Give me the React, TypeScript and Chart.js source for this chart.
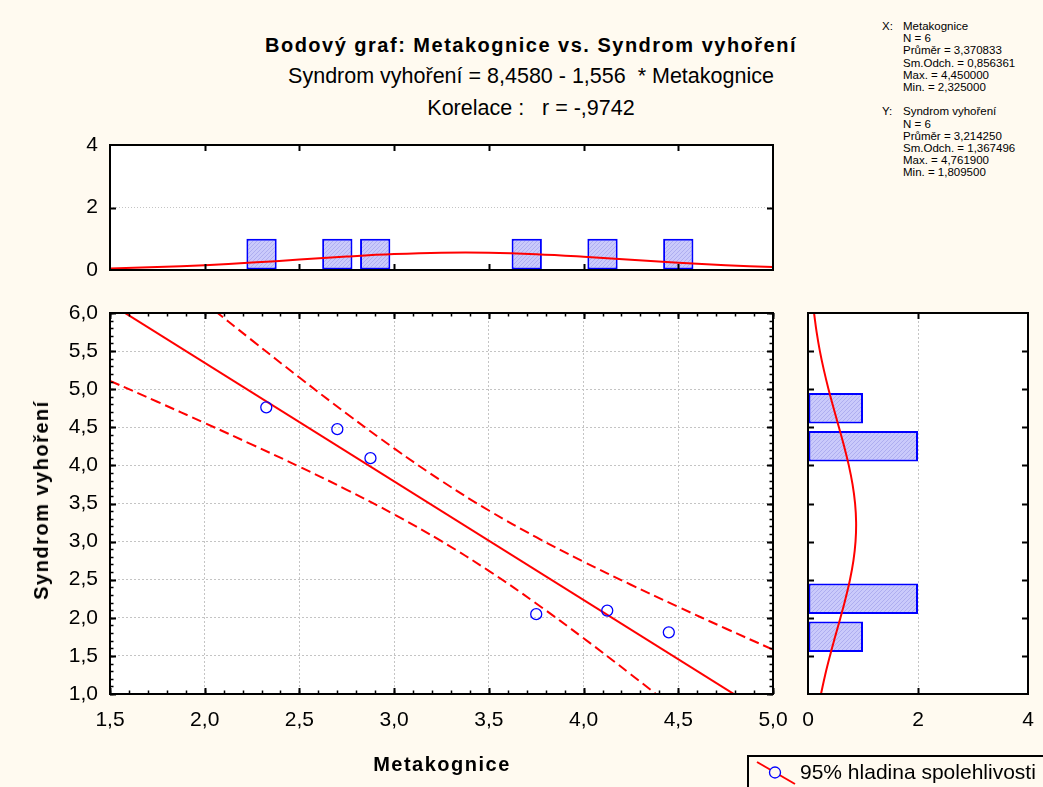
import React, { useEffect, useRef } from 'react';
import { Chart, registerables } from 'chart.js';

Chart.register(...registerables);

const FONT = '"Liberation Sans", Arial, Helvetica, sans-serif';
const BG = '#fffaf0';

// ---- scatter data (Metakognice vs. Syndrom vyhoření) ----
const metakognice = [2.325, 2.7, 2.875, 3.75, 4.125, 4.45];
const syndrom = [4.7619, 4.476, 4.095, 2.048, 2.095, 1.8095];

// ---- regression line: Syndrom = 8,4580 - 1,556 * Metakognice ----
const regX = [1.5, 5.0];
const regY = [6.124, 0.678];

// ---- 95% confidence band ----
const bandX = [1.5, 1.75, 2.0, 2.25, 2.5, 2.75, 3.0, 3.25, 3.5, 3.75, 4.0, 4.25, 4.5, 4.75, 5.0];
const bandUpper = [7.138, 6.635, 6.135, 5.641, 5.153, 4.678, 4.223, 3.797, 3.408, 3.058, 2.736, 2.434, 2.143, 1.86, 1.582];
const bandLower = [5.11, 4.835, 4.557, 4.273, 3.983, 3.68, 3.357, 3.005, 2.616, 2.188, 1.732, 1.257, 0.769, 0.274, -0.226];

// ---- histogram of X (top) ----
const xBinCenters = [2.1, 2.3, 2.5, 2.7, 2.9, 3.1, 3.3, 3.5, 3.7, 3.9, 4.1, 4.3, 4.5, 4.7];
const xBinCounts = [0, 1, 0, 1, 1, 0, 0, 0, 1, 0, 1, 0, 1, 0];
const xCurveX = [1.5, 1.75, 2.0, 2.25, 2.5, 2.75, 3.0, 3.25, 3.5, 3.75, 4.0, 4.25, 4.5, 4.75, 5.0];
const xCurveY = [0.051, 0.093, 0.155, 0.237, 0.333, 0.43, 0.509, 0.553, 0.553, 0.507, 0.427, 0.33, 0.234, 0.153, 0.092];

// ---- histogram of Y (right) ----
const yBinCenters = [1.25, 1.75, 2.25, 2.75, 3.25, 3.75, 4.25, 4.75, 5.25, 5.75];
const yBinCounts = [0, 1, 2, 0, 0, 0, 2, 1, 0, 0];
const yCurveY = [1.0, 1.25, 1.5, 1.75, 2.0, 2.25, 2.5, 2.75, 3.0, 3.25, 3.5, 3.75, 4.0, 4.25, 4.5, 4.75, 5.0, 5.25, 5.5, 5.75, 6.0];
const yCurveX = [0.236, 0.312, 0.399, 0.493, 0.59, 0.682, 0.763, 0.826, 0.864, 0.875, 0.856, 0.81, 0.742, 0.657, 0.562, 0.466, 0.373, 0.289, 0.216, 0.157, 0.11];

// ---- texts ----
const titleLines = [
  'Bodový graf: Metakognice vs. Syndrom vyhoření',
  'Syndrom vyhoření = 8,4580 - 1,556  * Metakognice',
  'Korelace :   r = -,9742',
];
const xTitle = 'Metakognice';
const yTitle = 'Syndrom vyhoření';
const legendLabel = '95% hladina spolehlivosti';
const statsX = ['Metakognice', 'N = 6', 'Průměr = 3,370833', 'Sm.Odch. = 0,856361', 'Max. = 4,450000', 'Min. = 2,325000'];
const statsY = ['Syndrom vyhoření', 'N = 6', 'Průměr = 3,214250', 'Sm.Odch. = 1,367496', 'Max. = 4,761900', 'Min. = 1,809500'];

const fmt1 = (v: any) => Number(v).toFixed(1).replace('.', ',');
const fmt0 = (v: any) => String(Math.round(Number(v)));

function steps(from: number, to: number, step: number): number[] {
  const out: number[] = [];
  const n = Math.round((to - from) / step);
  for (let i = 0; i <= n; i++) out.push(Math.round((from + i * step) * 1000) / 1000);
  return out;
}

const fitX = (h: number) => (s: any) => {
  s.height = h;
  s.paddingLeft = 0;
  s.paddingRight = 0;
  s.paddingTop = 0;
  s.paddingBottom = 0;
};
const fitY = (w: number) => (s: any) => {
  s.width = w;
  s.paddingLeft = 0;
  s.paddingRight = 0;
  s.paddingTop = 0;
  s.paddingBottom = 0;
};

type FrameCfg = { xMajor: number[]; xMinor: number[]; yMajor: number[]; yMinor: number[] };

function makeFrame(cfg: FrameCfg) {
  return {
    id: 'frameTicks',
    beforeDraw(chart: any) {
      const { ctx, chartArea: a } = chart;
      ctx.save();
      ctx.fillStyle = '#ffffff';
      ctx.fillRect(a.left, a.top, a.right - a.left, a.bottom - a.top);
      ctx.restore();
    },
    afterDatasetsDraw(chart: any) {
      const { ctx, chartArea: a, scales } = chart;
      const xs = scales.x;
      const ys = scales.y;
      ctx.save();
      ctx.strokeStyle = '#000';
      ctx.lineWidth = 1.5;
      const xt = (vals: number[], len: number) => {
        vals.forEach((v) => {
          const p = Math.round(xs.getPixelForValue(v)) + 0.5;
          ctx.beginPath();
          ctx.moveTo(p, a.top);
          ctx.lineTo(p, a.top + len);
          ctx.moveTo(p, a.bottom);
          ctx.lineTo(p, a.bottom - len);
          ctx.stroke();
        });
      };
      const yt = (vals: number[], len: number) => {
        vals.forEach((v) => {
          const p = Math.round(ys.getPixelForValue(v)) + 0.5;
          ctx.beginPath();
          ctx.moveTo(a.left, p);
          ctx.lineTo(a.left + len, p);
          ctx.moveTo(a.right, p);
          ctx.lineTo(a.right - len, p);
          ctx.stroke();
        });
      };
      xt(cfg.xMinor, 3.5);
      yt(cfg.yMinor, 3.5);
      ctx.lineWidth = 2;
      xt(cfg.xMajor, 6);
      yt(cfg.yMajor, 6);
      ctx.lineWidth = 2;
      ctx.strokeRect(a.left, a.top, a.right - a.left, a.bottom - a.top);
      ctx.restore();
    },
  };
}

function hatchPattern(): any {
  const c = document.createElement('canvas');
  c.width = 4;
  c.height = 4;
  const g = c.getContext('2d')!;
  g.fillStyle = '#cacafb';
  g.fillRect(0, 0, 4, 4);
  g.fillStyle = '#aeaef0';
  for (let i = 0; i < 4; i++) g.fillRect(i, 3 - i, 1, 1);
  return g.createPattern(c, 'repeat') || '#c4c4f8';
}

const tickFont = { family: FONT, size: 21 };

export default function App() {
  const topRef = useRef<HTMLCanvasElement>(null);
  const mainRef = useRef<HTMLCanvasElement>(null);
  const rightRef = useRef<HTMLCanvasElement>(null);

  useEffect(() => {
    const charts: Chart[] = [];
    const pattern = hatchPattern();

    // ---------- main scatter ----------
    charts.push(
      new Chart(mainRef.current!, {
        type: 'scatter',
        data: {
          datasets: [
            {
              label: 'data',
              data: metakognice.map((x, i) => ({ x, y: syndrom[i] })),
              pointStyle: 'circle',
              pointRadius: 5.5,
              pointBorderWidth: 1.3,
              borderColor: '#0000ff',
              backgroundColor: 'rgba(0,0,0,0)',
              showLine: false,
            } as any,
            {
              label: 'fit',
              data: regX.map((x, i) => ({ x, y: regY[i] })),
              showLine: true,
              borderColor: '#ff0000',
              borderWidth: 2,
              pointRadius: 0,
            } as any,
            {
              label: 'upper',
              data: bandX.map((x, i) => ({ x, y: bandUpper[i] })),
              showLine: true,
              borderColor: '#ff0000',
              borderWidth: 2,
              borderDash: [10, 5],
              pointRadius: 0,
              tension: 0.4,
            } as any,
            {
              label: 'lower',
              data: bandX.map((x, i) => ({ x, y: bandLower[i] })),
              showLine: true,
              borderColor: '#ff0000',
              borderWidth: 2,
              borderDash: [10, 5],
              pointRadius: 0,
              tension: 0.4,
            } as any,
          ],
        },
        options: {
          animation: false,
          responsive: false,
          devicePixelRatio: 1,
          layout: { padding: { left: 0, right: 17, top: 23, bottom: 0 } },
          plugins: { legend: { display: false }, tooltip: { enabled: false } },
          elements: { line: { capBezierPoints: false } as any },
          scales: {
            x: {
              type: 'linear',
              min: 1.5,
              max: 5.0,
              afterFit: fitX(93),
              ticks: { stepSize: 0.5, color: '#000', font: tickFont, padding: 14, maxRotation: 0, autoSkip: false, callback: fmt1 },
              grid: { color: '#c4c4c4', lineWidth: 1, drawTicks: false },
              border: { display: false, dash: [2, 2] },
            },
            y: {
              type: 'linear',
              min: 1,
              max: 6,
              afterFit: fitY(110),
              ticks: { stepSize: 0.5, color: '#000', font: tickFont, padding: 12, autoSkip: false, callback: fmt1 },
              grid: { color: '#c4c4c4', lineWidth: 1, drawTicks: false },
              border: { display: false, dash: [2, 2] },
            },
          },
        } as any,
        plugins: [makeFrame({ xMajor: steps(1.5, 5, 0.5), xMinor: steps(1.5, 5, 0.1), yMajor: steps(1, 6, 0.5), yMinor: steps(1, 6, 0.1) })],
      })
    );

    // ---------- top histogram ----------
    charts.push(
      new Chart(topRef.current!, {
        type: 'bar',
        data: {
          datasets: [
            {
              type: 'bar',
              label: 'hist',
              data: xBinCenters.map((x, i) => ({ x, y: xBinCounts[i] })),
              backgroundColor: pattern,
              borderColor: '#0000ff',
              borderWidth: 2,
              borderSkipped: false,
              categoryPercentage: 1,
              barPercentage: 0.8,
            } as any,
            {
              type: 'line',
              label: 'normal',
              data: xCurveX.map((x, i) => ({ x, y: xCurveY[i] })),
              borderColor: '#ff0000',
              borderWidth: 2,
              pointRadius: 0,
              tension: 0.4,
              order: -1,
            } as any,
          ],
        },
        options: {
          animation: false,
          responsive: false,
          devicePixelRatio: 1,
          layout: { padding: { left: 0, right: 17, top: 15, bottom: 20 } },
          plugins: { legend: { display: false }, tooltip: { enabled: false } },
          scales: {
            x: {
              type: 'linear',
              min: 1.5,
              max: 5.0,
              offset: false,
              display: false,
              afterFit: fitX(0),
              grid: { display: false, offset: false },
            },
            y: {
              type: 'linear',
              min: 0,
              max: 4,
              afterFit: fitY(110),
              ticks: { stepSize: 2, color: '#000', font: tickFont, padding: 12, callback: fmt0 },
              grid: { color: '#c4c4c4', lineWidth: 1, drawTicks: false },
              border: { display: false, dash: [1, 2] },
            },
          },
        } as any,
        plugins: [makeFrame({ xMajor: steps(2, 4.5, 0.5), xMinor: [], yMajor: [2], yMinor: [] })],
      })
    );

    // ---------- right histogram ----------
    charts.push(
      new Chart(rightRef.current!, {
        type: 'bar',
        data: {
          datasets: [
            {
              type: 'bar',
              label: 'hist',
              indexAxis: 'y',
              data: yBinCenters.map((y, i) => ({ x: yBinCounts[i], y })),
              backgroundColor: pattern,
              borderColor: '#0000ff',
              borderWidth: 2,
              borderSkipped: false,
              categoryPercentage: 1,
              barPercentage: 0.8,
            } as any,
            {
              type: 'line',
              label: 'normal',
              indexAxis: 'y',
              data: yCurveY.map((y, i) => ({ x: yCurveX[i], y })),
              borderColor: '#ff0000',
              borderWidth: 2,
              pointRadius: 0,
              tension: 0.4,
              order: -1,
            } as any,
          ],
        },
        options: {
          indexAxis: 'y',
          animation: false,
          responsive: false,
          devicePixelRatio: 1,
          layout: { padding: { left: 18, right: 15, top: 23, bottom: 0 } },
          plugins: { legend: { display: false }, tooltip: { enabled: false } },
          scales: {
            x: {
              type: 'linear',
              min: 0,
              max: 4,
              afterFit: fitX(93),
              ticks: { stepSize: 2, color: '#000', font: tickFont, padding: 14, callback: fmt0 },
              grid: { color: '#c4c4c4', lineWidth: 1, drawTicks: false },
              border: { display: false, dash: [2, 2] },
            },
            y: {
              type: 'linear',
              min: 1,
              max: 6,
              offset: false,
              display: false,
              afterFit: fitY(0),
              grid: { display: false, offset: false },
            },
          },
        } as any,
        plugins: [makeFrame({ xMajor: [2], xMinor: [], yMajor: steps(1.5, 5.5, 0.5), yMinor: [] })],
      })
    );

    return () => charts.forEach((c) => c.destroy());
  }, []);

  const abs = (s: React.CSSProperties): React.CSSProperties => ({ position: 'absolute', whiteSpace: 'pre', ...s });

  return (
    <div style={{ position: 'absolute', left: 0, top: 0, width: 1043, height: 787, background: BG, overflow: 'hidden', fontFamily: FONT, color: '#000' }}>
      <canvas ref={topRef} width={790} height={160} style={{ position: 'absolute', left: 0, top: 130, width: 790, height: 160 }} />
      <canvas ref={mainRef} width={790} height={497} style={{ position: 'absolute', left: 0, top: 290, width: 790, height: 497 }} />
      <canvas ref={rightRef} width={253} height={497} style={{ position: 'absolute', left: 790, top: 290, width: 253, height: 497 }} />

      <div style={abs({ left: 0, width: 1062, top: 33, lineHeight: '24px', textAlign: 'center', fontWeight: 'bold', fontSize: 20, letterSpacing: '1.5px' })}>{titleLines[0]}</div>
      <div style={abs({ left: 0, width: 1062, top: 64, lineHeight: '24px', textAlign: 'center', fontSize: 21.5 })}>{titleLines[1]}</div>
      <div style={abs({ left: 0, width: 1062, top: 96, lineHeight: '24px', textAlign: 'center', fontSize: 21.5 })}>{titleLines[2]}</div>

      <div style={abs({ left: 292, width: 300, top: 752, lineHeight: '24px', textAlign: 'center', fontWeight: 'bold', fontSize: 20, letterSpacing: '1.5px' })}>{xTitle}</div>
      <div style={abs({ left: 41, top: 500, lineHeight: '24px', fontWeight: 'bold', fontSize: 20, letterSpacing: '1.5px', transform: 'translate(-50%, -50%) rotate(-90deg)' })}>{yTitle}</div>

      <div style={abs({ left: 882, top: 20, fontSize: 11.5, lineHeight: '12.2px' })}>
        {statsX.map((t, i) => (
          <div key={'x' + i}><span style={{ display: 'inline-block', width: 21 }}>{i === 0 ? 'X:' : ''}</span>{t}</div>
        ))}
        <div>{' '}</div>
        {statsY.map((t, i) => (
          <div key={'y' + i}><span style={{ display: 'inline-block', width: 21 }}>{i === 0 ? 'Y:' : ''}</span>{t}</div>
        ))}
      </div>

      <div style={{ position: 'absolute', left: 747, top: 755, width: 320, height: 60, border: '2px solid #000', boxSizing: 'border-box' }} />
      <svg style={{ position: 'absolute', left: 755, top: 759 }} width={44} height={28}>
        <line x1={2} y1={3} x2={40} y2={25} stroke="#ff0000" strokeWidth={2} />
        <circle cx={20} cy={13.5} r={5.5} stroke="#0000ff" strokeWidth={1.3} fill={BG} />
      </svg>
      <div style={abs({ left: 800, top: 760, lineHeight: '24px', fontSize: 21 })}>{legendLabel}</div>
    </div>
  );
}
